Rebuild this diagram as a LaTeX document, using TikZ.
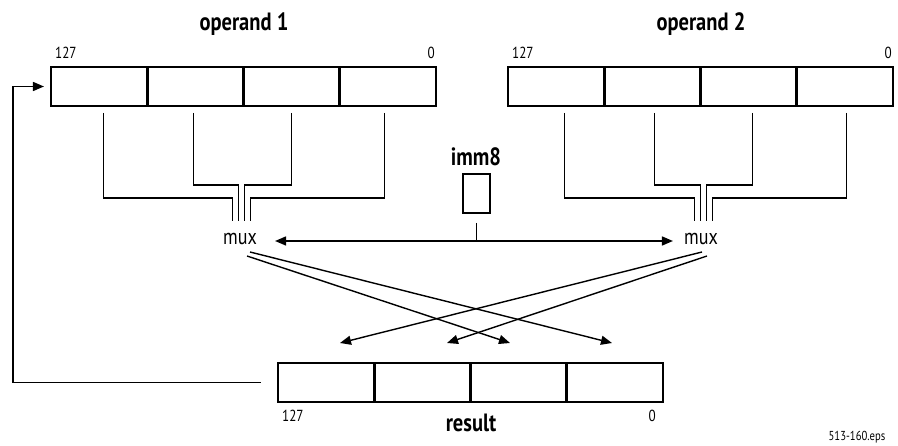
\documentclass[tikz,border=0pt]{standalone}
\usepackage{fontspec}
\setmainfont{PT Sans}[FakeStretch=0.82]
\usepackage{tikz}
\usetikzlibrary{arrows.meta,positioning}

\begin{document}
\begin{tikzpicture}[x=1pt,y=1pt,>={Triangle[length=11pt,width=9pt]},
    cell/.style={draw,line width=2.6pt,minimum width=96.25pt,minimum height=39pt,
                 outer sep=0pt,inner sep=0pt},
    title/.style={font=\fontsize{25}{29}\selectfont\bfseries,inner sep=1pt},
    bitno/.style={font=\fontsize{16}{19}\selectfont,inner sep=1pt},
    muxlbl/.style={font=\fontsize{22}{26}\selectfont,inner sep=1pt},
    bus/.style={line width=1.2pt},
    sig/.style={line width=1.4pt}]
  \useasboundingbox (0,0) rectangle (898,445);

  % operand 1
  \node[cell] (a1) at (99.1,358.5) {};
  \node[cell,right=0pt of a1] (a2) {};
  \node[cell,right=0pt of a2] (a3) {};
  \node[cell,right=0pt of a3] (a4) {};
  \node[title] (op1) at (244,421) {operand 1};
  \node[bitno,anchor=south west] (a127) at ([xshift=3pt,yshift=7pt]a1.north west) {127};
  \node[bitno,anchor=south east] (a0) at ([yshift=7pt]a4.north east) {0};

  % operand 2
  \node[cell] (b1) at (556.1,358.5) {};
  \node[cell,right=0pt of b1] (b2) {};
  \node[cell,right=0pt of b2] (b3) {};
  \node[cell,right=0pt of b3] (b4) {};
  \node[title] (op2) at (701,421) {operand 2};
  \node[bitno,anchor=south west] (b127) at ([xshift=3pt,yshift=7pt]b1.north west) {127};
  \node[bitno,anchor=south east] (b0) at ([yshift=7pt]b4.north east) {0};

  % result
  \node[cell] (r1) at (326.1,62.5) {};
  \node[cell,right=0pt of r1] (r2) {};
  \node[cell,right=0pt of r2] (r3) {};
  \node[cell,right=0pt of r3] (r4) {};
  \node[title,anchor=north] (res) at (471,32) {result};
  \node[bitno,anchor=north west] (r127) at ([xshift=3pt,yshift=-7pt]r1.south west) {127};
  \node[bitno,anchor=north east] (r0) at ([xshift=-6pt,yshift=-7pt]r4.south east) {0};

  % imm8 and the muxes
  \node[title] (immlbl) at (476,288) {imm8};
  \node[draw,line width=1.6pt,minimum width=27pt,minimum height=39pt,inner sep=0pt]
        (imm) at (476.5,251.5) {};
  \node[muxlbl] (muxa) at (240,206) {mux};
  \node[muxlbl] (muxb) at (701,206) {mux};
  \coordinate (ja) at (241.5,224);
  \coordinate (jb) at (703.5,224);
  \coordinate (sel) at (476.5,204);

  % buses into the muxes
  \draw[bus] ([xshift=4pt,yshift=-7pt]a1.south) |- ([xshift=-9pt,yshift=23pt]ja) -- ([xshift=-9pt]ja);
  \draw[bus] ([xshift=-2pt,yshift=-7pt]a2.south) |- ([xshift=-3pt,yshift=36pt]ja) -- ([xshift=-3pt]ja);
  \draw[bus] ([yshift=-7pt]a3.south) |- ([xshift=3pt,yshift=36pt]ja) -- ([xshift=3pt]ja);
  \draw[bus] ([xshift=-3pt,yshift=-7pt]a4.south) |- ([xshift=9pt,yshift=23pt]ja) -- ([xshift=9pt]ja);
  \draw[bus] ([xshift=8pt,yshift=-7pt]b1.south) |- ([xshift=-9pt,yshift=23pt]jb) -- ([xshift=-9pt]jb);
  \draw[bus] ([xshift=2pt,yshift=-7pt]b2.south) |- ([xshift=-3pt,yshift=36pt]jb) -- ([xshift=-3pt]jb);
  \draw[bus] ([xshift=4pt,yshift=-7pt]b3.south) |- ([xshift=3pt,yshift=36pt]jb) -- ([xshift=3pt]jb);
  \draw[bus] ([xshift=2pt,yshift=-7pt]b4.south) |- ([xshift=9pt,yshift=23pt]jb) -- ([xshift=9pt]jb);

  % select line
  \draw[sig] ([yshift=-9pt]imm.south) -- (sel);
  \draw[sig,<->] ([xshift=17pt]muxa.east |- sel) -- ([xshift=-10pt]muxb.west |- sel);

  % crossing outputs
  \coordinate (t1) at (340,102);
  \coordinate (t2) at (447,102);
  \coordinate (t3) at (510,102);
  \coordinate (t4) at (612,102);
  \draw[sig,->] ([shift={(10,-13)}]muxa.center) -- (t4);
  \draw[sig,->] ([shift={(7,-17)}]muxa.center) -- (t3);
  \draw[sig,->] ([shift={(1,-13)}]muxb.center) -- (t1);
  \draw[sig,->] ([shift={(6,-17)}]muxb.center) -- (t2);

  % feedback
  \draw[sig,->] ([xshift=-17pt]r1.west) -- ++(-248,0) |- ([xshift=-7pt]a1.west);

  \node[font=\fontsize{13}{15}\selectfont,inner sep=0pt] (fig) at (857,8) {513-160.eps};
\end{tikzpicture}
\end{document}
